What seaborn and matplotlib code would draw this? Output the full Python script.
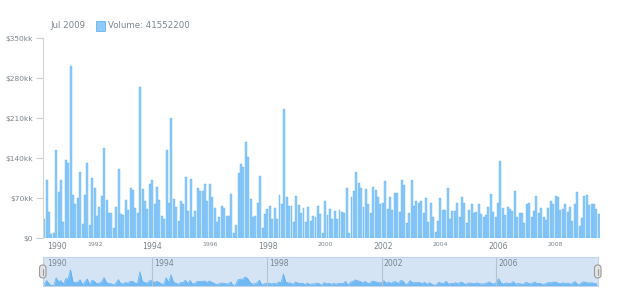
import numpy as np
import pandas as pd
import matplotlib
matplotlib.use("Agg")
import matplotlib.pyplot as plt
import matplotlib.transforms as mtransforms
from matplotlib.patches import FancyBboxPatch, Rectangle
import seaborn as sns

# ---- data (monthly volume, in millions = "kk") ----
vol_1990 = [33, 102, 46, 7, 9, 154, 80, 101, 28]            # Apr-Dec
vol_1991 = [137, 131, 301, 76, 60, 70, 115, 24, 75, 131, 22, 105]
vol_1992 = [88, 39, 54, 73, 158, 66, 43, 43, 18, 54, 120, 42]
vol_1993 = [40, 67, 49, 87, 84, 53, 43, 265, 86, 65, 50, 94]
vol_1994 = [101, 60, 90, 67, 38, 33, 154, 61, 210, 69, 55, 29]
vol_1995 = [64, 59, 107, 47, 104, 37, 48, 87, 83, 82, 95, 64]
vol_1996 = [94, 72, 52, 28, 37, 56, 52, 39, 38, 77, 8, 22]
vol_1997 = [114, 130, 124, 168, 142, 69, 37, 39, 62, 109, 17, 42]
vol_1998 = [50, 56, 34, 53, 34, 76, 59, 225, 72, 56, 56, 28]
vol_1999 = [74, 57, 44, 53, 28, 55, 30, 39, 37, 56, 42, 9]
vol_2000 = [64, 40, 51, 33, 47, 33, 49, 45, 43, 87, 9, 72]
vol_2001 = [82, 116, 97, 88, 55, 85, 59, 43, 90, 84, 72, 59]
vol_2002 = [61, 99, 50, 71, 49, 78, 78, 46, 101, 92, 27, 44]
vol_2003 = [101, 56, 64, 62, 65, 43, 70, 28, 62, 36, 11, 29]
vol_2004 = [70, 49, 49, 87, 34, 48, 47, 62, 37, 72, 61, 27]
vol_2005 = [49, 59, 44, 46, 59, 42, 36, 40, 54, 77, 45, 37]
vol_2006 = [62, 135, 52, 40, 55, 51, 47, 83, 36, 43, 43, 26]
vol_2007 = [59, 62, 37, 48, 74, 43, 52, 37, 31, 52, 64, 59]
vol_2008 = [74, 71, 49, 50, 59, 46, 55, 30, 59, 81, 21, 35]
vol_2009 = [73, 75, 57, 59, 59, 51, 41.5522]                 # Jan-Jul

start_month = "1990-04"
series_name = "Volume"
y_ticks = [0, 70, 140, 210, 280, 350]
y_tick_labels = ["$0", "$70kk", "$140kk", "$210kk", "$280kk", "$350kk"]
major_years = [1990, 1994, 1998, 2002, 2006]
minor_years = [1992, 1996, 2000, 2004, 2008]
scroller_years = [1990, 1994, 1998, 2002, 2006]

volume = np.array(vol_1990 + vol_1991 + vol_1992 + vol_1993 + vol_1994 + vol_1995 +
                  vol_1996 + vol_1997 + vol_1998 + vol_1999 + vol_2000 + vol_2001 +
                  vol_2002 + vol_2003 + vol_2004 + vol_2005 + vol_2006 + vol_2007 +
                  vol_2008 + vol_2009, dtype=float)
dates = pd.date_range(start_month, periods=len(volume), freq="MS")
df = pd.DataFrame({"idx": np.arange(len(volume)), "volume": volume, "date": dates})

BAR = "#90CAF9"
EDGE = "#64B5F6"
TXT = "#7c868e"

sns.set_style("white")
plt.rcParams["font.family"] = ["DejaVu Sans"]

fig = plt.figure(figsize=(6.2, 3.0), dpi=100)
fig.patch.set_facecolor("white")

# ---- main chart ----
ax = fig.add_axes([43 / 620, 1 - 238 / 300, 557 / 620, 200 / 300])
sns.barplot(data=df, x="idx", y="volume", native_scale=True, width=0.82,
            color=BAR, saturation=1, edgecolor=EDGE, linewidth=0.3, ax=ax)
n = len(volume)
ax.set_xlim(-0.5, n - 0.5)
ax.set_ylim(0, 350)
ax.set_yticks(y_ticks)
ax.set_yticklabels(y_tick_labels)
ax.tick_params(axis="y", left=True, length=5, width=0.8, color="#cfcfcf",
               labelsize=5.4, labelcolor=TXT, pad=2)
ax.set_xticks([])
ax.set_xlabel("")
ax.set_ylabel("")
for s in ["top", "right", "bottom"]:
    ax.spines[s].set_visible(False)
ax.spines["left"].set_color("#d5d5d5")
ax.spines["left"].set_linewidth(0.8)
ax.set_facecolor("white")


def year_pos(y):
    m = np.where((df["date"].dt.year == y) & (df["date"].dt.month == 1))[0]
    return (float(m[0]), "center") if len(m) else (-0.5, "left")


tr = mtransforms.blended_transform_factory(ax.transData, ax.transAxes)
for y in major_years:
    p, ha = year_pos(y)
    ax.annotate(str(y), (p, 0), xycoords=tr, xytext=(4 if ha == "left" else 0, -8.5),
                textcoords="offset pixels", ha=ha, va="center",
                fontsize=5.6, color=TXT)
for y in minor_years:
    p, ha = year_pos(y)
    ax.annotate(str(y), (p, 0), xycoords=tr, xytext=(0, -6.5),
                textcoords="offset pixels", ha=ha, va="center",
                fontsize=4.4, color=TXT)

# ---- legend ----
fig.text(50 / 620, 1 - 26 / 300, dates[-1].strftime("%b %Y"), va="center", ha="left",
         fontsize=6.2, color=TXT)
fig.patches.append(Rectangle((96 / 620, 1 - 31 / 300), 9 / 620, 10 / 300,
                             transform=fig.transFigure, facecolor=BAR,
                             edgecolor=EDGE, linewidth=0.6))
fig.text(108 / 620, 1 - 26 / 300, f"{series_name}: {int(round(volume[-1] * 1e6))}",
         va="center", ha="left", fontsize=6.2, color=TXT)

# ---- scroller ----
ax2 = fig.add_axes([43 / 620, 1 - 286 / 300, 555 / 620, 29 / 300])
ax2.set_facecolor("#d5e4f5")
ax2.fill_between(df["idx"], df["volume"], color="#6fb9f4", linewidth=0)
sns.lineplot(data=df, x="idx", y="volume", color="#5aaef2", linewidth=0.5, ax=ax2)
ax2.set_xlim(-0.5, n - 0.5)
ax2.set_ylim(0, 540)
ax2.set_xticks([])
ax2.set_yticks([])
ax2.set_xlabel("")
ax2.set_ylabel("")
for s in ax2.spines.values():
    s.set_color("#c4d4e8")
    s.set_linewidth(0.8)
tr2 = mtransforms.blended_transform_factory(ax2.transData, ax2.transAxes)
for y in scroller_years:
    p, ha = year_pos(y)
    if ha == "center":
        ax2.axvline(p, color="#b8c2cc", linewidth=0.8)
        ax2.annotate(str(y), (p, 1), xycoords=tr2, xytext=(2, -7),
                     textcoords="offset pixels", ha="left", va="center",
                     fontsize=5.6, color=TXT)
    else:
        ax2.annotate(str(y), (p, 1), xycoords=tr2, xytext=(4, -7),
                     textcoords="offset pixels", ha="left", va="center",
                     fontsize=5.6, color=TXT)

pix = mtransforms.Affine2D().scale(1 / 100) + fig.dpi_scale_trans
for hx in (39.5, 594.5):
    fig.patches.append(FancyBboxPatch((hx, 22), 6.5, 13,
                                      boxstyle="round,pad=0,rounding_size=3",
                                      transform=pix, facecolor="#e4e4e4",
                                      edgecolor="#9a9a9a", linewidth=0.8))
    fig.lines.append(plt.Line2D([hx + 3.25, hx + 3.25], [25.5, 31.5], transform=pix,
                                color="#9a9a9a", linewidth=0.8))

fig.savefig("out.png", dpi=100)
